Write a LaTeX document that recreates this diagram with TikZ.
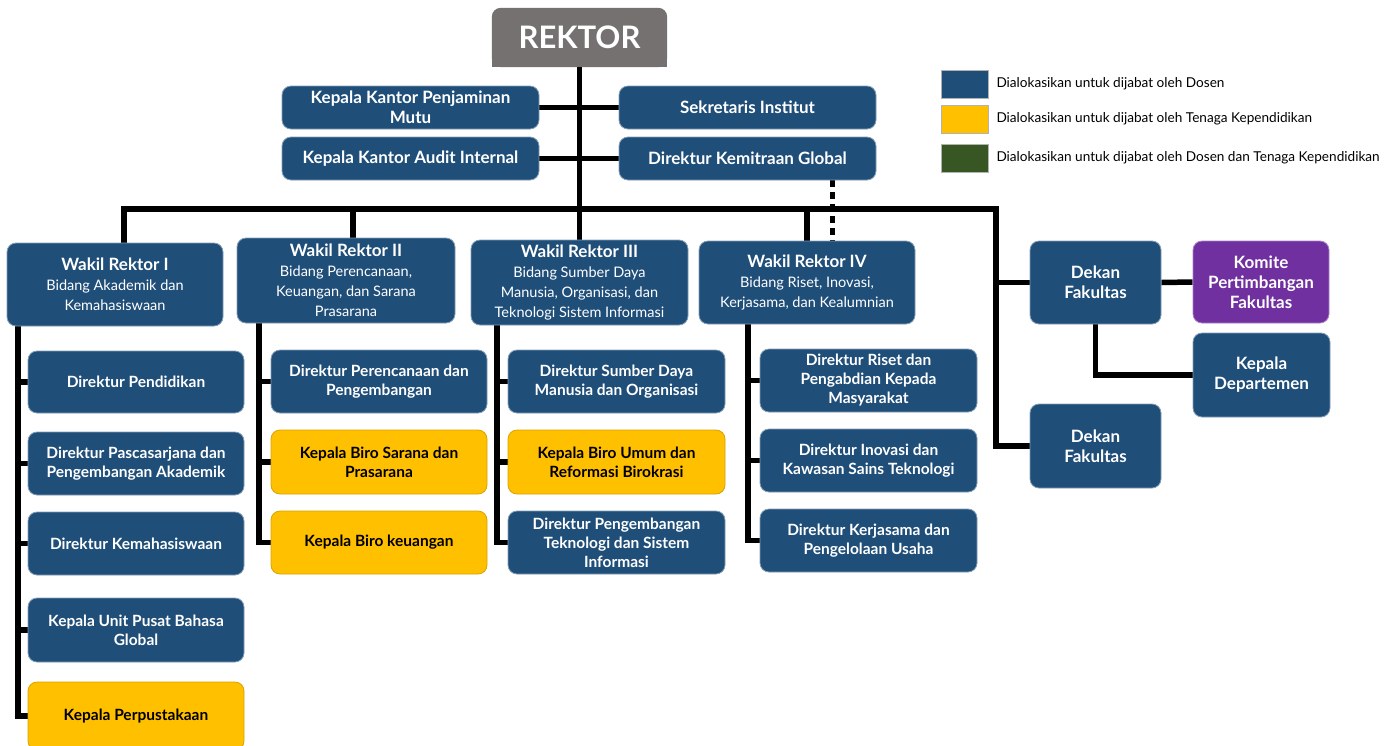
\documentclass[tikz,border=0pt]{standalone}
\usepackage{fontspec}
\setmainfont{Lato}
\usetikzlibrary{backgrounds}

\definecolor{dosen}{HTML}{1F4E79}
\definecolor{tendik}{HTML}{FFC000}
\definecolor{campur}{HTML}{375623}
\definecolor{komite}{HTML}{7030A0}
\definecolor{rektorgray}{HTML}{767171}

\tikzset{
  wh/.style 2 args={minimum width=#1pt, minimum height=#2pt},
  unit/.style={rounded corners=9pt, fill=dosen, draw=dosen!55!white, line width=0.8pt,
    text=white, align=center, inner sep=2pt,
    font=\bfseries\fontsize{15.5}{19}\selectfont},
  bigunit/.style={unit, font=\bfseries\fontsize{17}{20}\selectfont},
  staff/.style={unit, fill=tendik, draw=tendik!85!black, text=black},
  committee/.style={bigunit, fill=komite, draw=komite!60!white},
  deputy/.style={unit, font=\fontsize{14.5}{20}\selectfont},
  link/.style={line width=5.5pt, black, line join=miter},
  dotlink/.style={line width=5pt, black, dash pattern=on 7pt off 5pt},
  legsq/.style={draw=gray!60, line width=0.6pt, minimum width=47pt, minimum height=28pt, inner sep=0pt},
  legtxt/.style={anchor=west, inner sep=0pt, xshift=8pt, font=\fontsize{13.6}{15}\selectfont}
}
\newcommand\wrtitle[1]{{\bfseries\fontsize{17}{20}\selectfont #1}}

\begin{document}
\begin{tikzpicture}[x=1pt, y=-1pt]
\useasboundingbox (0,0) rectangle (1398,745);

% top level
\node[text=white, font=\bfseries\fontsize{31}{31}\selectfont, wh={175}{59}] (rek) at (579.5,37.5) {REKTOR};

\node[bigunit, wh={257}{43}] (kkpm) at (410.5,107.5) {Kepala Kantor Penjaminan\\Mutu};
\node[bigunit, wh={257}{43}] (si)   at (747.5,107.5) {Sekretaris Institut};
\node[bigunit, wh={257}{43}] (kkai) at (410.5,158.5) {Kepala Kantor Audit Internal};
\node[bigunit, wh={257}{43}] (dkg)  at (747.5,158.5) {Direktur Kemitraan Global};

% deputies
\node[deputy, wh={216}{83}] (wr1) at (115,284.5) {\wrtitle{Wakil Rektor I}\\Bidang Akademik dan\\Kemahasiswaan};
\node[deputy, wh={218}{85}] (wr2) at (346,280.5) {\wrtitle{Wakil Rektor II}\\Bidang Perencanaan,\\Keuangan, dan Sarana\\Prasarana};
\node[deputy, wh={217}{85}] (wr3) at (579.5,282.5) {\wrtitle{Wakil Rektor III}\\Bidang Sumber Daya\\Manusia, Organisasi, dan\\Teknologi Sistem Informasi};
\node[deputy, wh={216}{83}] (wr4) at (807,282.5) {\wrtitle{Wakil Rektor IV}\\Bidang Riset, Inovasi,\\Kerjasama, dan Kealumnian};

% faculties
\node[bigunit, wh={131}{83}] (dek1) at (1095.5,282.5) {Dekan\\Fakultas};
\node[committee, wh={136}{82}] (kpf) at (1261,282) {Komite\\Pertimbangan\\Fakultas};
\node[bigunit, wh={137}{84}] (kdep) at (1261.5,375) {Kepala\\Departemen};
\node[bigunit, wh={131}{84}] (dek2) at (1095.5,446) {Dekan\\Fakultas};

% column I
\node[unit, wh={216}{62}] (dpend)  at (136,382)   {Direktur Pendidikan};
\node[unit, wh={216}{63}] (dpasca) at (136,463.5) {Direktur Pascasarjana dan\\Pengembangan Akademik};
\node[unit, wh={216}{63}] (dkema)  at (136,543.5) {Direktur Kemahasiswaan};
\node[unit, wh={216}{64}] (kupb)   at (136,630)   {Kepala Unit Pusat Bahasa\\Global};
\node[staff, wh={216}{68}] (kperp) at (136,716)   {Kepala Perpustakaan};

% column II
\node[unit, wh={216}{63}] (dpp)   at (379,381.5) {Direktur Perencanaan dan\\Pengembangan};
\node[staff, wh={216}{64}] (kbsp) at (379,462)   {Kepala Biro Sarana dan\\Prasarana};
\node[staff, wh={216}{63}] (kbk)  at (379,542.5) {Kepala Biro keuangan};

% column III
\node[unit, wh={217}{63}] (dsdm)  at (616.5,381.5) {Direktur Sumber Daya\\Manusia dan Organisasi};
\node[staff, wh={217}{64}] (kbur) at (616.5,462)   {Kepala Biro Umum dan\\Reformasi Birokrasi};
\node[unit, wh={217}{63}] (dpts)  at (616.5,542.5) {Direktur Pengembangan\\Teknologi dan Sistem\\Informasi};

% column IV
\node[unit, wh={217}{63}] (drpm)  at (868.5,380.5) {Direktur Riset dan\\Pengabdian Kepada\\Masyarakat};
\node[unit, wh={217}{63}] (dikst) at (868.5,460.5) {Direktur Inovasi dan\\Kawasan Sains Teknologi};
\node[unit, wh={217}{63}] (dkpu)  at (868.5,540.5) {Direktur Kerjasama dan\\Pengelolaan Usaha};

% legend
\node[legsq, fill=dosen]  (lg1) at (964.5,84)  {};
\node[legsq, fill=tendik] (lg2) at (964.5,119) {};
\node[legsq, fill=campur] (lg3) at (964.5,158) {};
\node[legtxt] (lt1) at (lg1.east) {Dialokasikan untuk dijabat oleh Dosen};
\node[legtxt] (lt2) at (lg2.east) {Dialokasikan untuk dijabat oleh Tenaga Kependidikan};
\node[legtxt] (lt3) at (lg3.east) {Dialokasikan untuk dijabat oleh Dosen dan Tenaga Kependidikan};

% branch points of the main bus and the column spines
\coordinate (b1)  at (124,209);
\coordinate (b2)  at (353,209);
\coordinate (b4)  at (807,209);
\coordinate (fak) at (996,209);
\coordinate (dk)  at (832,0);
\coordinate (s1)  at (18,0);
\coordinate (s2)  at (259,0);
\coordinate (s3)  at (497,0);
\coordinate (s4)  at (748,0);

\begin{scope}[on background layer]
  % rector header: rounded top, square bottom
  \fill[rektorgray, rounded corners=9pt] (rek.south west) rectangle (rek.north east);
  \fill[rektorgray] (rek.south west) rectangle (rek.east);

  \draw[link] (rek.south) -- (rek.south |- wr3.north);
  \draw[link] (kkpm.east) -- (si.west);
  \draw[link] (kkai.east) -- (dkg.west);
  \draw[dotlink] (dkg.south -| dk) -- (dk |- wr4.north);

  \draw[link] (b1 |- wr1.north) |- (fak) |- (dek2.west);
  \draw[link] (b2) -- (b2 |- wr2.north);
  \draw[link] (b4) -- (b4 |- wr4.north);
  \draw[link] (fak |- dek1.west) -- (dek1.west);
  \draw[link] (dek1.east) -- (kpf.west);
  \draw[link] (dek1.south) |- (kdep.west);

  \draw[link] (wr1.south -| s1) |- (kperp.west);
  \foreach \n in {dpend,dpasca,dkema,kupb} \draw[link] (\n.west -| s1) -- (\n.west);

  \draw[link] (wr2.south -| s2) |- (kbk.west);
  \foreach \n in {dpp,kbsp} \draw[link] (\n.west -| s2) -- (\n.west);

  \draw[link] (wr3.south -| s3) |- (dpts.west);
  \foreach \n in {dsdm,kbur} \draw[link] (\n.west -| s3) -- (\n.west);

  \draw[link] (wr4.south -| s4) |- (dkpu.west);
  \foreach \n in {drpm,dikst} \draw[link] (\n.west -| s4) -- (\n.west);
\end{scope}
\end{tikzpicture}
\end{document}
